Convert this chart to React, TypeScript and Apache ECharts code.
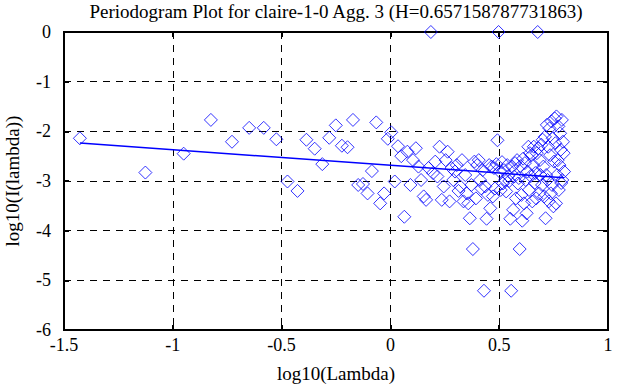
import React, { useEffect, useRef } from "react";
import * as echarts from "echarts";

const TITLE = "Periodogram Plot for claire-1-0 Agg. 3 (H=0.657158787731863)";
const X_NAME = "log10(Lambda)";
const Y_NAME = "log10(I(lambda))";

const logLambda = [
  -1.427, -1.126, -0.95, -0.825, -0.728, -0.649, -0.582, -0.524, -0.473, -0.427,
  -0.386, -0.348, -0.313, -0.281, -0.251, -0.223, -0.197, -0.172, -0.148, -0.126,
  -0.105, -0.085, -0.065, -0.047, -0.029, -0.012, 0.004, 0.02, 0.035, 0.05,
  0.064, 0.078, 0.092, 0.104, 0.117, 0.129, 0.141, 0.153, 0.164, 0.175,
  0.186, 0.196, 0.206, 0.216, 0.226, 0.236, 0.245, 0.254, 0.263, 0.272,
  0.281, 0.289, 0.297, 0.305, 0.313, 0.321, 0.329, 0.336, 0.344, 0.351,
  0.358, 0.365, 0.372, 0.379, 0.386, 0.393, 0.399, 0.406, 0.412, 0.418,
  0.424, 0.43, 0.436, 0.442, 0.448, 0.454, 0.459, 0.465, 0.471, 0.476,
  0.481, 0.487, 0.492, 0.497, 0.502, 0.507, 0.513, 0.517, 0.522, 0.527,
  0.532, 0.537, 0.541, 0.546, 0.551, 0.555, 0.56, 0.564, 0.569, 0.573,
  0.577, 0.582, 0.586, 0.59, 0.594, 0.598, 0.602, 0.606, 0.61, 0.614,
  0.618, 0.622, 0.626, 0.63, 0.634, 0.637, 0.641, 0.645, 0.649, 0.652,
  0.656, 0.659, 0.663, 0.666, 0.67, 0.673, 0.677, 0.68, 0.684, 0.687,
  0.69, 0.694, 0.697, 0.7, 0.703, 0.707, 0.71, 0.713, 0.716, 0.719,
  0.722, 0.725, 0.728, 0.731, 0.734, 0.737, 0.74, 0.743, 0.746, 0.749,
  0.752, 0.755, 0.758, 0.761, 0.763, 0.766, 0.769, 0.772, 0.774, 0.777,
  0.78, 0.783, 0.785, 0.788, 0.79, 0.793, 0.796, 0.798,
];

const logPeriodogram = [
  -2.14, -2.83, -2.45, -1.77, -2.21, -1.93, -1.93, -2.16, -3.01, -3.2,
  -2.17, -2.35, -2.66, -2.13, -1.88, -2.29, -2.32, -1.77, -3.08, -3.06,
  -3.25, -2.8, -1.82, -3.45, -3.25, -2.15, -2.02, -3.01, -2.3, -2.5,
  -3.72, -2.41, -3.08, -2.58, -2.34, -2.71, -2.98, -3.31, -3.38, -2.74,
  0.0, -2.84, -2.61, -2.91, -2.31, -3.38, -3.11, -2.58, -2.41, -3.41,
  -2.74, -2.98, -2.81, -2.68, -3.2, -3.11, -2.58, -3.41, -2.88, -3.25,
  -3.45, -3.75, -3.08, -4.37, -2.61, -3.35, -2.68, -2.58, -2.98, -3.15,
  -2.78, -5.21, -3.11, -3.76, -3.28, -2.68, -3.55, -2.71, -3.31, -2.74,
  -3.15, -2.66, -2.18, 0.0, -2.81, -3.18, -2.62, -3.05, -2.78, -2.98,
  -3.21, -2.68, -2.9, -3.0, -3.76, -5.21, -2.71, -3.58, -2.91, -2.64,
  -3.35, -2.58, -3.05, -2.94, -4.37, -2.7, -3.28, -3.8, -2.55, -3.45,
  -2.64, -2.98, -3.65, -2.81, -2.31, -3.18, -2.44, -2.9, -2.48, -3.41,
  -2.68, -2.31, -3.04, -2.84, -3.35, -2.44, 0.0, -2.34, -3.25, -2.58,
  -2.88, -2.27, -3.08, -2.17, -2.71, -3.31, -2.11, -3.75, -2.88, -1.87,
  -2.98, -2.31, -3.41, -1.94, -2.48, -3.25, -1.8, -3.08, -2.14, -3.51,
  -2.61, -1.74, -2.24, -3.45, -1.7, -2.88, -2.58, -1.9, -3.18, -2.68,
  -2.04, -2.37, -3.04, -1.77, -2.98, -2.21, -2.44, -2.81,
];

const fitX = [-1.427, 0.798];
const fitY = [-2.235, -2.934];

const xTicks = { min: -1.5, max: 1, interval: 0.5 };
const yTicks = { min: -6, max: 0, interval: 1 };

const FONT = "Liberation Serif";

export default function App() {
  const ref = useRef<HTMLDivElement>(null);
  useEffect(() => {
    if (!ref.current) return;
    const chart = echarts.init(ref.current, null, { renderer: "svg" });
    const points = logLambda.map((x, i) => [x, logPeriodogram[i]]);
    const fit = fitX.map((x, i) => [x, fitY[i]]);
    const axisLine = { show: true, onZero: false, lineStyle: { color: "#000", width: 2 } };
    const tick = { show: true, inside: true, length: 5, lineStyle: { color: "#000", width: 2 } };
    const split = { show: true, lineStyle: { color: "#000", type: [7, 6], width: 1 } };
    const label = { color: "#000", fontFamily: FONT, fontSize: 18 };
    const nameStyle = { color: "#000", fontFamily: FONT, fontSize: 19 };
    chart.setOption({
      animation: false,
      backgroundColor: "#fff",
      textStyle: { fontFamily: FONT },
      graphic: [
        {
          type: "text",
          x: 336,
          y: 11,
          style: {
            text: TITLE,
            fill: "#000",
            font: `19px "${FONT}"`,
            textAlign: "center",
            textVerticalAlign: "middle",
          },
        },
      ],
      grid: {
        left: 64,
        right: 35,
        top: 32,
        bottom: 57,
        containLabel: false,
        outerBoundsMode: "none",
        show: true,
        borderColor: "#000",
        borderWidth: 2,
      },
      xAxis: [
        {
          type: "value",
          ...xTicks,
          name: X_NAME,
          nameLocation: "middle",
          nameGap: 34,
          nameTextStyle: nameStyle,
          axisLine,
          axisTick: tick,
          axisLabel: { ...label, margin: 6, formatter: (v: number) => String(v) },
          splitLine: split,
        },
        {
          type: "value",
          position: "top",
          ...xTicks,
          axisLine,
          axisTick: tick,
          axisLabel: { show: false },
          splitLine: { show: false },
        },
      ],
      yAxis: [
        {
          type: "value",
          ...yTicks,
          name: Y_NAME,
          nameLocation: "middle",
          nameGap: 42,
          nameTextStyle: nameStyle,
          axisLine,
          axisTick: tick,
          axisLabel: { ...label, margin: 13, formatter: (v: number) => String(v) },
          splitLine: split,
        },
        {
          type: "value",
          position: "right",
          ...yTicks,
          axisLine,
          axisTick: tick,
          axisLabel: { show: false },
          splitLine: { show: false },
        },
      ],
      series: [
        {
          type: "scatter",
          data: points,
          symbol: "diamond",
          symbolSize: 13,
          itemStyle: { color: "transparent", borderColor: "#0000ff", borderWidth: 1 },
          clip: false,
        },
        {
          type: "line",
          data: fit,
          showSymbol: false,
          symbol: "none",
          lineStyle: { color: "#0000ff", width: 1.5 },
        },
      ],
    });
    return () => chart.dispose();
  }, []);
  return (
    <div
      ref={ref}
      style={{ position: "fixed", left: 0, top: 0, width: 643, height: 387, background: "#fff" }}
    />
  );
}
